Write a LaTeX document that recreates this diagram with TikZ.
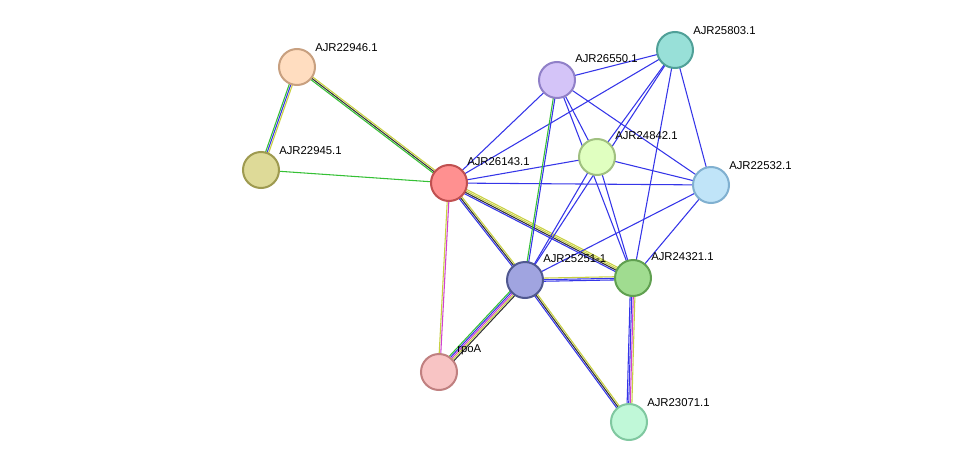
\documentclass[tikz,border=0pt]{standalone}
\usepackage{fontspec}
\setmainfont{Liberation Sans}
\usetikzlibrary{calc}
\definecolor{eblue}{HTML}{3535E8}
\definecolor{egreen}{HTML}{35C035}
\definecolor{eyellow}{HTML}{C8D040}
\definecolor{epink}{HTML}{D040D0}
\definecolor{eblack}{HTML}{333333}
\tikzset{
  prot/.style={circle, minimum size=27pt, inner sep=0pt, line width=1.5pt},
  lab/.style={anchor=south west, inner sep=0pt, font=\fontsize{8.5}{10}\selectfont}
}
% draw #1 parallel lines from #2 to #3 in the colours #4
\newcommand\edge[4]{%
  \foreach \c [count=\i] in {#4}{%
    \pgfmathsetmacro\off{(\i-(#1+1)/2)*1.2}
    \draw[\c, line width=0.8pt] ($(#2)!\off pt!90:(#3)$) -- ($(#3)!\off pt!-90:(#2)$);
  }}
\begin{document}
\begin{tikzpicture}[x=0.75pt, y=-0.75pt]
\useasboundingbox (0,0) rectangle (976,468);

% positions
\coordinate (p46) at (297,67);
\coordinate (p45) at (261,170);
\coordinate (p43) at (449,183);
\coordinate (p50) at (557,80);
\coordinate (p03) at (675,50);
\coordinate (p42) at (597,157);
\coordinate (p32) at (711,185);
\coordinate (p51) at (525,280);
\coordinate (p21) at (633,278);
\coordinate (rpo) at (439,372);
\coordinate (p71) at (629,422);

% edges
\edge{3}{p46}{p45}{egreen,eblue,eyellow}
\edge{3}{p46}{p43}{egreen,eblack,eyellow}
\edge{1}{p45}{p43}{egreen}
\edge{1}{p43}{p50}{eblue}
\edge{1}{p43}{p03}{eblue}
\edge{1}{p43}{p42}{eblue}
\edge{1}{p43}{p32}{eblue}
\edge{3}{p43}{p51}{eblue,eblack,eyellow}
\edge{4}{p43}{p21}{eblue,eblack,eyellow,eyellow}
\edge{2}{p43}{rpo}{eyellow,epink}
\edge{1}{p50}{p03}{eblue}
\edge{1}{p50}{p42}{eblue}
\edge{1}{p50}{p32}{eblue}
\edge{1}{p50}{p21}{eblue}
\edge{2}{p50}{p51}{egreen,eblue}
\edge{1}{p03}{p42}{eblue}
\edge{1}{p03}{p32}{eblue}
\edge{1}{p03}{p21}{eblue}
\edge{1}{p03}{p51}{eblue}
\edge{1}{p42}{p32}{eblue}
\edge{1}{p42}{p51}{eblue}
\edge{1}{p42}{p21}{eblue}
\edge{1}{p32}{p51}{eblue}
\edge{1}{p32}{p21}{eblue}
\edge{3}{p51}{p21}{eblue,eblue,eyellow}
\edge{5}{p51}{rpo}{egreen,eblue,epink,eyellow,eblack}
\edge{3}{p51}{p71}{eblue,eblack,eyellow}
\edge{4}{p21}{p71}{eblue,eblue,epink,eyellow}

% proteins
\node[prot, fill={rgb,255:red,255;green,221;blue,192}, draw={rgb,255:red,200;green,160;blue,128}] (n46) at (p46) {};
\node[prot, fill={rgb,255:red,222;green,218;blue,152}, draw={rgb,255:red,158;green,154;blue,80}] (n45) at (p45) {};
\node[prot, fill={rgb,255:red,255;green,144;blue,144}, draw={rgb,255:red,192;green,80;blue,80}] (n43) at (p43) {};
\node[prot, fill={rgb,255:red,212;green,196;blue,248}, draw={rgb,255:red,144;green,128;blue,200}] (n50) at (p50) {};
\node[prot, fill={rgb,255:red,152;green,224;blue,216}, draw={rgb,255:red,80;green,160;blue,152}] (n03) at (p03) {};
\node[prot, fill={rgb,255:red,224;green,255;blue,192}, draw={rgb,255:red,160;green,192;blue,128}] (n42) at (p42) {};
\node[prot, fill={rgb,255:red,192;green,228;blue,248}, draw={rgb,255:red,128;green,176;blue,208}] (n32) at (p32) {};
\node[prot, fill={rgb,255:red,160;green,164;blue,224}, draw={rgb,255:red,80;green,88;blue,144}] (n51) at (p51) {};
\node[prot, fill={rgb,255:red,160;green,220;blue,144}, draw={rgb,255:red,96;green,160;blue,80}] (n21) at (p21) {};
\node[prot, fill={rgb,255:red,248;green,196;blue,196}, draw={rgb,255:red,192;green,128;blue,128}] (nrpo) at (rpo) {};
\node[prot, fill={rgb,255:red,192;green,248;blue,216}, draw={rgb,255:red,128;green,200;blue,160}] (n71) at (p71) {};

% labels
\node[lab] at ($(p46)+(18,-15)$) {AJR22946.1};
\node[lab] at ($(p45)+(18,-15)$) {AJR22945.1};
\node[lab] at ($(p43)+(18,-17)$) {AJR26143.1};
\node[lab] at ($(p50)+(18,-17)$) {AJR26550.1};
\node[lab] at ($(p03)+(18,-15)$) {AJR25803.1};
\node[lab] at ($(p42)+(18,-17)$) {AJR24842.1};
\node[lab] at ($(p32)+(18,-15)$) {AJR22532.1};
\node[lab] at ($(p51)+(18,-17)$) {AJR25251-1};
\node[lab] at ($(p21)+(18,-17)$) {AJR24321.1};
\node[lab] at ($(rpo)+(18,-17)$) {rpoA};
\node[lab] at ($(p71)+(18,-15)$) {AJR23071.1};
\end{tikzpicture}
\end{document}
